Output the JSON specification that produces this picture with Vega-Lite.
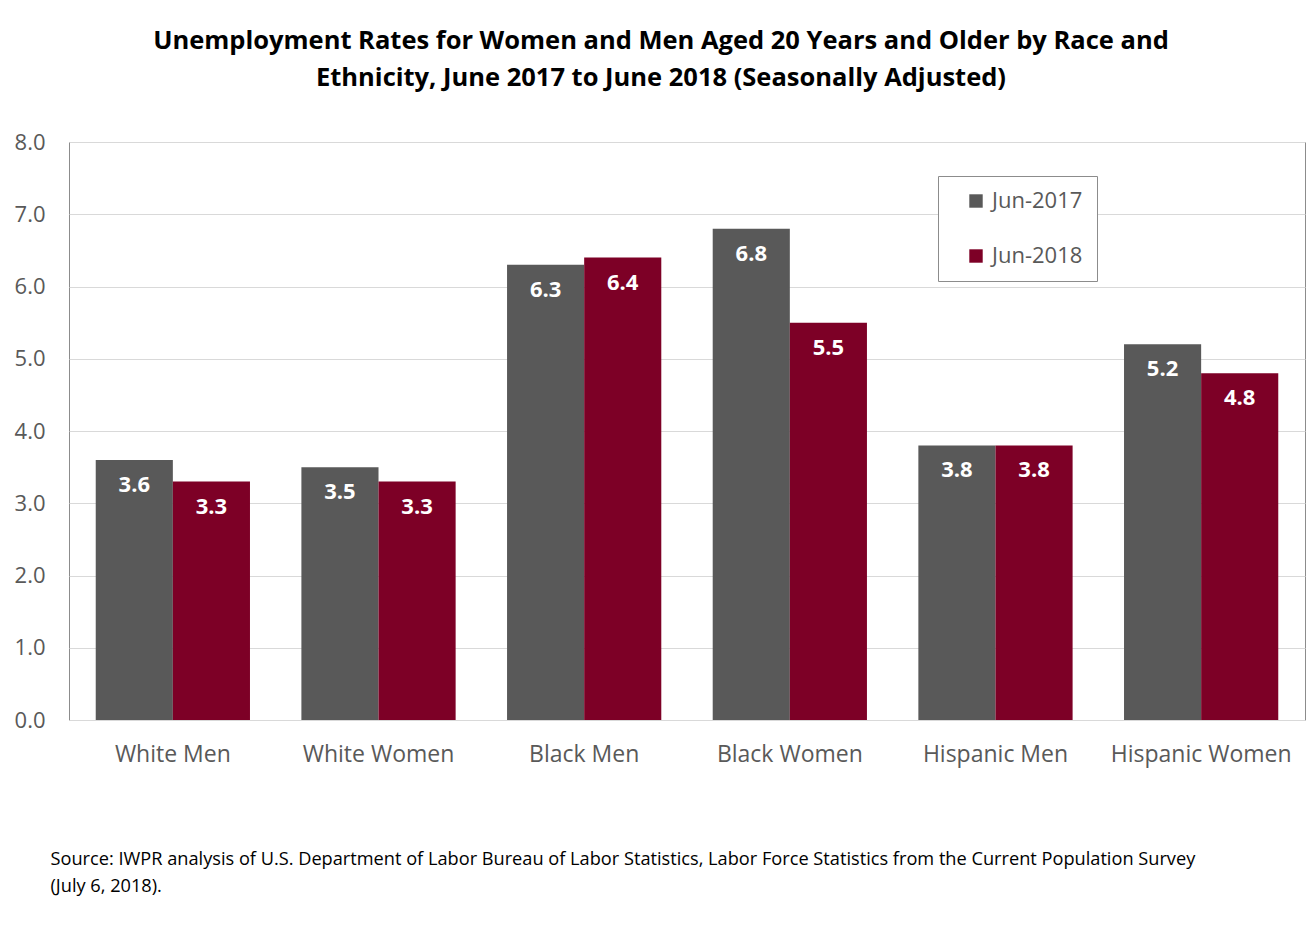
{
  "$schema": "https://vega.github.io/schema/vega-lite/v6.json",
  "width": 1236,
  "height": 578,
  "autosize": {"type": "none"},
  "padding": {"left": 69, "top": 142, "right": 8, "bottom": 229},
  "background": "white",
  "title": {
    "text": ["Unemployment Rates for Women and Men Aged 20 Years and Older by Race and", "Ethnicity, June 2017 to June 2018 (Seasonally Adjusted)"],
    "font": "Open Sans",
    "fontSize": 25.5,
    "fontWeight": "bold",
    "color": "#000000",
    "anchor": "middle",
    "dx": -26,
    "offset": 40,
    "lineHeight": 37
  },
  "config": {
    "view": {"stroke": "#8c8c8c", "strokeWidth": 1},
    "font": "Open Sans"
  },
  "data": {
    "values": [
      {"group": "White Men", "year": "Jun-2017", "rate": 3.6},
      {"group": "White Men", "year": "Jun-2018", "rate": 3.3},
      {"group": "White Women", "year": "Jun-2017", "rate": 3.5},
      {"group": "White Women", "year": "Jun-2018", "rate": 3.3},
      {"group": "Black Men", "year": "Jun-2017", "rate": 6.3},
      {"group": "Black Men", "year": "Jun-2018", "rate": 6.4},
      {"group": "Black Women", "year": "Jun-2017", "rate": 6.8},
      {"group": "Black Women", "year": "Jun-2018", "rate": 5.5},
      {"group": "Hispanic Men", "year": "Jun-2017", "rate": 3.8},
      {"group": "Hispanic Men", "year": "Jun-2018", "rate": 3.8},
      {"group": "Hispanic Women", "year": "Jun-2017", "rate": 5.2},
      {"group": "Hispanic Women", "year": "Jun-2018", "rate": 4.8}
    ]
  },
  "encoding": {
    "x": {
      "field": "group",
      "type": "nominal",
      "sort": null,
      "scale": {"paddingInner": 0.25, "paddingOuter": 0.13},
      "axis": {
        "title": ["Source: IWPR analysis of U.S. Department of Labor Bureau of Labor Statistics, Labor Force Statistics from the Current Population Survey", " (July 6, 2018)."],
        "titleFont": "Open Sans",
        "titleFontSize": 18.2,
        "titleFontWeight": "normal",
        "titleColor": "#000000",
        "titleAlign": "left",
        "titleAnchor": "start",
        "titleBaseline": "alphabetic",
        "titleX": -19,
        "titleY": 144,
        "titleLineHeight": 27,
        "labelAngle": 0,
        "labelFont": "Open Sans",
        "labelFontSize": 23,
        "labelColor": "#595959",
        "labelPadding": 23,
        "labelLimit": 400,
        "labelOverlap": false,
        "ticks": false,
        "domain": true,
        "domainColor": "#d9d9d9"
      }
    },
    "xOffset": {"field": "year", "type": "nominal", "scale": {"paddingInner": 0}},
    "y": {
      "field": "rate",
      "type": "quantitative",
      "scale": {"domain": [0, 8], "nice": false},
      "axis": {
        "title": null,
        "values": [0, 1, 2, 3, 4, 5, 6, 7, 8],
        "format": ".1f",
        "labelFont": "Open Sans",
        "labelFontSize": 22,
        "labelColor": "#595959",
        "labelPadding": 24,
        "ticks": false,
        "domain": false,
        "gridColor": "#d9d9d9",
        "gridWidth": 1
      }
    }
  },
  "layer": [
    {
      "mark": {"type": "bar"},
      "encoding": {
        "color": {
          "field": "year",
          "type": "nominal",
          "scale": {"domain": ["Jun-2017", "Jun-2018"], "range": ["#595959", "#7d0026"]},
          "legend": {
            "title": null,
            "orient": "none",
            "legendX": 869,
            "legendY": 34,
            "strokeColor": "#8c8c8c",
            "fillColor": "white",
            "padding": 14,
            "offset": 0,
            "symbolType": "square",
            "symbolSize": 180,
            "symbolStrokeWidth": 0,
            "symbolOffset": 13,
            "labelFont": "Open Sans",
            "labelFontSize": 22,
            "labelColor": "#595959",
            "labelExpr": "datum.label + '\u00a0\u00a0\u00a0\u00a0'",
            "rowPadding": 33,
            "labelOffset": 5,
            "labelLimit": 300
          }
        }
      }
    },
    {
      "mark": {"type": "text", "color": "white", "fontWeight": "bold", "fontSize": 22, "font": "Open Sans", "baseline": "middle", "dy": 25},
      "encoding": {
        "text": {"field": "rate", "type": "quantitative", "format": ".1f"}
      }
    }
  ]
}
